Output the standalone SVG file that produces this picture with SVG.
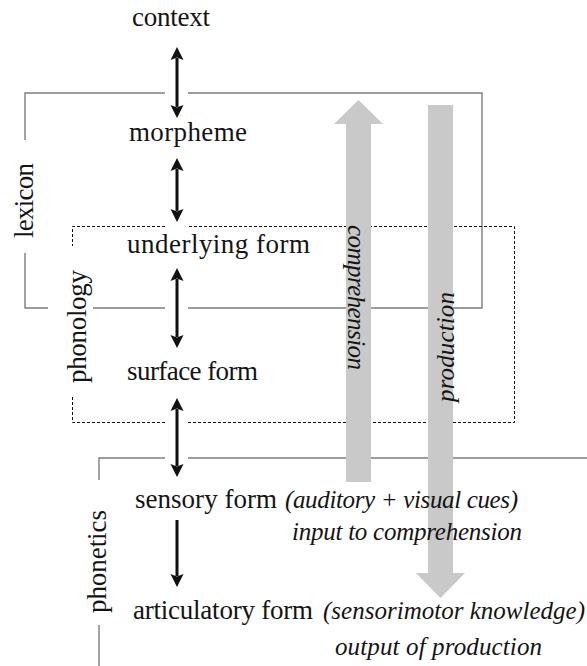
<svg xmlns="http://www.w3.org/2000/svg" width="587" height="666" viewBox="0 0 587 666">
  <defs>
    <style>
      text{fill:#141414;font-family:'Liberation Serif','DejaVu Serif','Times New Roman',Times,serif}
      .t{font-size:27px}
      .i{font-size:25px;font-style:italic}
      .frame{fill:none;stroke:#7d7d7d;stroke-width:1.4}
      .dash{fill:none;stroke:#111;stroke-width:1;stroke-dasharray:3 2}
      .flow{fill:#c9c9c9}
      .link{stroke:#111;stroke-width:3;fill:none}
    </style>
    <marker id="head" viewBox="0 -7 14 14" refX="2" refY="0" markerWidth="14" markerHeight="14" markerUnits="userSpaceOnUse" orient="auto-start-reverse">
      <path d="M0,-6.5 L13,0 L0,6.5 L2.5,0 z" fill="#111"/>
    </marker>
  </defs>

  <!-- level groupings -->
  <g id="lexicon-frame">
    <path class="frame" d="M165,93 H25 V140 M25,253 V308 H48 M93,308 H165 M188,308 H482 V93 H188"/>
  </g>
  <g id="phonology-frame">
    <path class="dash" d="M165,226.5 H72.5 V246 M72.5,397 V422.5 H165 M188,422.5 H514.5 V226.5 H188"/>
  </g>
  <g id="phonetics-frame">
    <path class="frame" d="M165,458 H99 V480 M99,625 V666 M188,458 H587"/>
  </g>

  <!-- processing directions -->
  <g id="comprehension">
    <path class="flow" d="M346,482 V124 H334 L358.5,100 L383,124 H371 V482 Z"/>
    <text class="i" style="font-family:'Liberation Serif',serif" transform="translate(348,297.5) rotate(90)" text-anchor="middle" textLength="145" lengthAdjust="spacing">comprehension</text>
  </g>
  <g id="production">
    <path class="flow" d="M428,105 V573 H416 L440.5,598 L465,573 H453 V105 Z"/>
    <text class="i" style="font-family:'Liberation Serif',serif" transform="translate(454,347) rotate(-90)" text-anchor="middle" textLength="110" lengthAdjust="spacing">production</text>
  </g>

  <!-- group labels -->
  <g id="label-lexicon">
    <text class="t" style="font-family:'Liberation Serif',serif" transform="translate(33,200.5) rotate(-90)" text-anchor="middle" textLength="75" lengthAdjust="spacing">lexicon</text>
  </g>
  <g id="label-phonology">
    <text class="t" style="font-family:'Liberation Serif',serif" transform="translate(86,326.5) rotate(-90)" text-anchor="middle" textLength="113" lengthAdjust="spacing">phonology</text>
  </g>
  <g id="label-phonetics">
    <text class="t" style="font-family:'Liberation Serif',serif" transform="translate(106,561.5) rotate(-90)" text-anchor="middle" textLength="103" lengthAdjust="spacing">phonetics</text>
  </g>

  <!-- representations -->
  <g id="context">
    <text class="t" style="font-family:'Liberation Serif',serif" x="132" y="26" textLength="78" lengthAdjust="spacing">context</text>
  </g>
  <g id="morpheme">
    <text class="t" style="font-family:'Liberation Serif',serif" x="129" y="141" textLength="118" lengthAdjust="spacing">morpheme</text>
  </g>
  <g id="underlying-form">
    <text class="t" style="font-family:'Liberation Serif',serif" x="127" y="253" textLength="183" lengthAdjust="spacing">underlying form</text>
  </g>
  <g id="surface-form">
    <text class="t" style="font-family:'Liberation Serif',serif" x="127" y="380" textLength="131" lengthAdjust="spacing">surface form</text>
  </g>
  <g id="sensory-form">
    <text class="t" style="font-family:'Liberation Serif',serif" x="135" y="508" textLength="142" lengthAdjust="spacing">sensory form</text>
    <text class="i" style="font-family:'Liberation Serif',serif" x="285" y="508" textLength="233" lengthAdjust="spacing">(auditory + visual cues)</text>
    <text class="i" style="font-family:'Liberation Serif',serif" x="292" y="540" textLength="230" lengthAdjust="spacing">input to comprehension</text>
  </g>
  <g id="articulatory-form">
    <text class="t" style="font-family:'Liberation Serif',serif" x="133" y="619" textLength="180" lengthAdjust="spacing">articulatory form</text>
    <text class="i" style="font-family:'Liberation Serif',serif" x="323" y="619" textLength="262" lengthAdjust="spacing">(sensorimotor knowledge)</text>
    <text class="i" style="font-family:'Liberation Serif',serif" x="335" y="655" textLength="207" lengthAdjust="spacing">output of production</text>
  </g>

  <!-- mappings between levels -->
  <g id="connectors">
    <path class="link" d="M177,58 V107" marker-start="url(#head)" marker-end="url(#head)"/>
    <path class="link" d="M177,169 V211" marker-start="url(#head)" marker-end="url(#head)"/>
    <path class="link" d="M177,279 V337" marker-start="url(#head)" marker-end="url(#head)"/>
    <path class="link" d="M177,409 V466" marker-start="url(#head)" marker-end="url(#head)"/>
    <path class="link" d="M177,520 V576" marker-end="url(#head)"/>
  </g>
</svg>
